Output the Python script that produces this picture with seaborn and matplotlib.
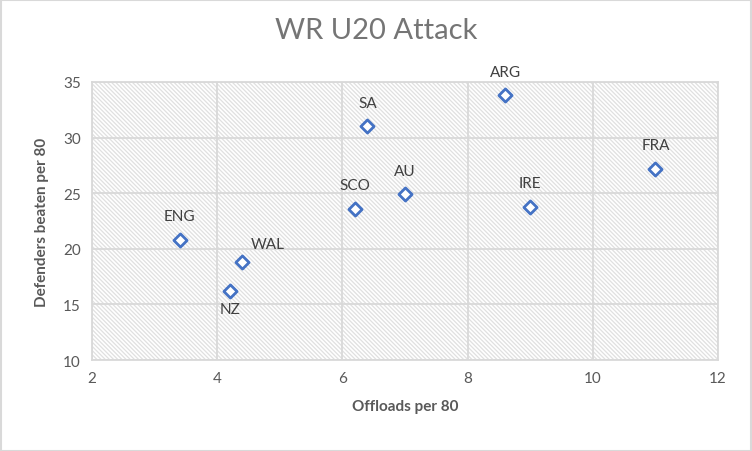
import matplotlib
matplotlib.use("Agg")
import matplotlib.pyplot as plt
import seaborn as sns
import pandas as pd
from matplotlib.patches import Rectangle

teams = ["ENG", "WAL", "NZ", "SCO", "SA", "AU", "ARG", "IRE", "FRA"]
offloads = [3.4, 4.4, 4.2, 6.2, 6.4, 7.0, 8.6, 9.0, 11.0]
defenders_beaten = [20.8, 18.8, 16.2, 23.6, 31.0, 24.9, 33.8, 23.8, 27.2]

df = pd.DataFrame({"team": teams, "offloads": offloads, "beaten": defenders_beaten})

sns.set_style("white")
plt.rcParams["font.family"] = ["Lato", "DejaVu Sans"]
plt.rcParams["hatch.linewidth"] = 0.9

fig = plt.figure(figsize=(7.52, 4.52), dpi=100)
ax = fig.add_axes([0.1223, 0.2013, 0.8325, 0.6151])

# hatched plot area like the excel pattern fill
ax.add_patch(Rectangle((0, 0), 1, 1, transform=ax.transAxes, facecolor="white",
                       edgecolor="#e0e0e0", hatch="\\" * 8, linewidth=0, zorder=0))

sns.scatterplot(data=df, x="offloads", y="beaten", marker="D", s=45,
                facecolor="white", edgecolor="#4472C4", linewidth=2, ax=ax, zorder=3)

for t, x, y in zip(teams, offloads, defenders_beaten):
    if t == "WAL":
        ax.annotate(t, (x, y), xytext=(6, 8), textcoords="offset points",
                    ha="left", va="bottom", fontsize=11, color="#404040")
    elif t == "NZ":
        ax.annotate(t, (x, y), xytext=(0, -8), textcoords="offset points",
                    ha="center", va="top", fontsize=11, color="#404040")
    else:
        ax.annotate(t, (x, y), xytext=(0, 12), textcoords="offset points",
                    ha="center", va="bottom", fontsize=11, color="#404040")

ax.set_xlim(2, 12)
ax.set_ylim(10, 35)
ax.set_xticks([2, 4, 6, 8, 10, 12])
ax.set_yticks([10, 15, 20, 25, 30, 35])
ax.grid(True, color="#d9d9d9", linewidth=1.3)
ax.set_axisbelow(True)
for sp in ax.spines.values():
    sp.set_color("#d9d9d9")
    sp.set_linewidth(1.3)
ax.tick_params(axis="both", length=0, labelsize=11, labelcolor="#595959", pad=8)

ax.set_xlabel("Offloads per 80", fontsize=11, fontweight="bold", color="#595959", labelpad=10)
ax.set_ylabel("Defenders beaten per 80", fontsize=11, fontweight="bold", color="#595959", labelpad=10)
fig.suptitle("WR U20 Attack", x=0.5, y=0.96, fontsize=21, color="#757575")

fig.patches.append(Rectangle((0.001, 0.001), 0.998, 0.997, transform=fig.transFigure,
                             fill=False, edgecolor="#d9d9d9", linewidth=1.5))

fig.savefig("out.png", dpi=100)
